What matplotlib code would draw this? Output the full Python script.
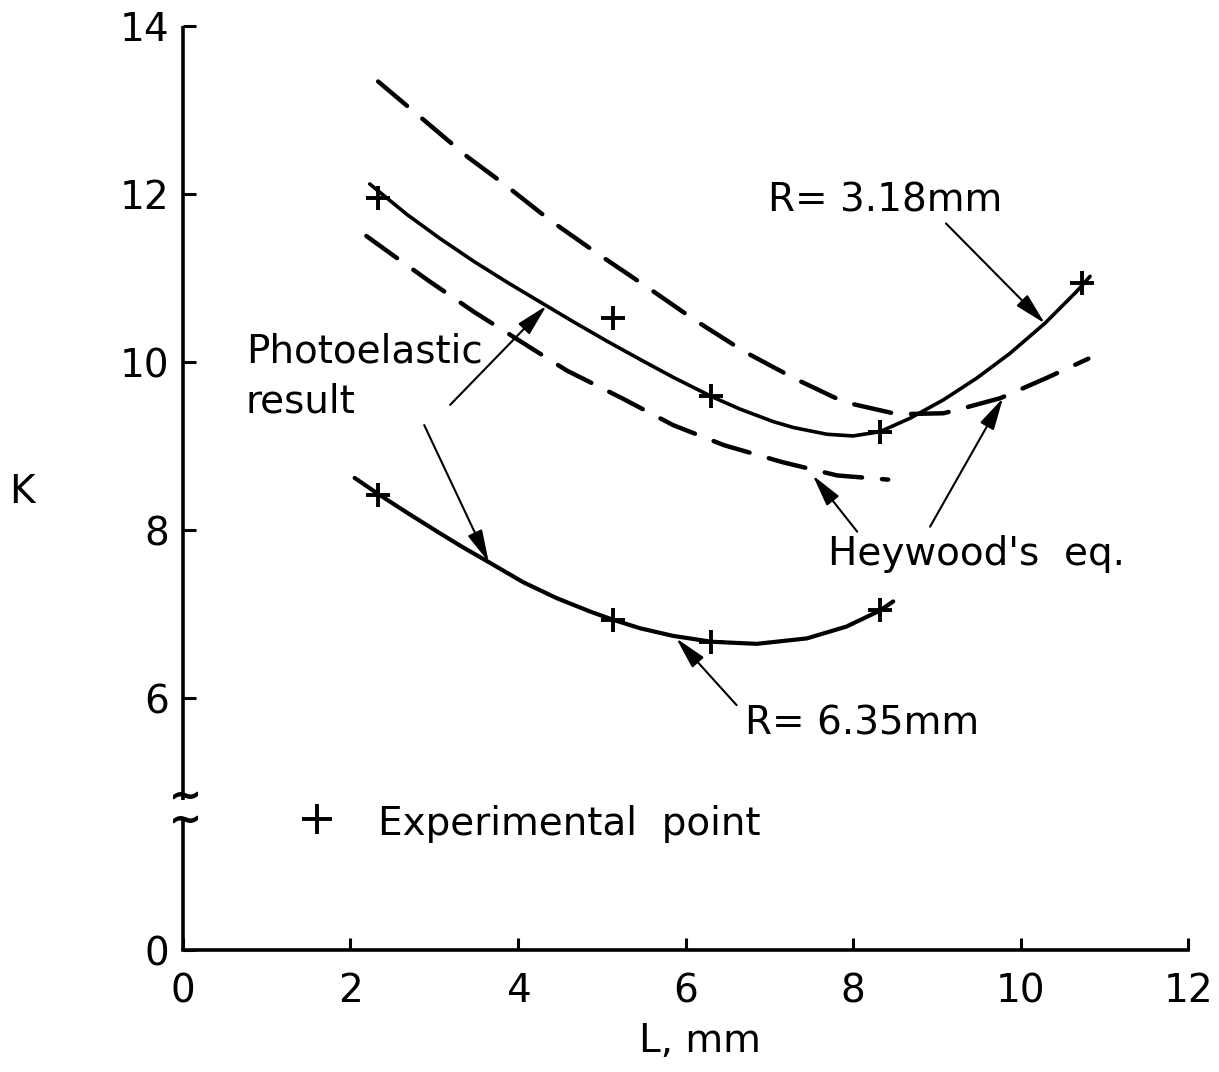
import matplotlib
matplotlib.use("Agg")
import matplotlib.pyplot as plt
import numpy as np

# photoelastic result, R = 3.18 mm (solid, upper)
r318_x = [2.23, 2.67, 3.07, 3.47, 3.87, 4.34, 4.66, 5.06, 5.46, 5.85, 6.31, 6.65, 7.05, 7.29,
          7.69, 8.00, 8.32, 8.68, 9.08, 9.48, 9.87, 10.29, 10.67, 10.83]
r318_y = [12.12, 11.76, 11.47, 11.20, 10.95, 10.67, 10.48, 10.25, 10.03, 9.82, 9.59, 9.44, 9.29, 9.22,
          9.14, 9.12, 9.17, 9.33, 9.55, 9.81, 10.10, 10.46, 10.84, 11.02]

# photoelastic result, R = 6.35 mm (solid, lower)
r635_x = [2.05, 2.33, 2.67, 3.07, 3.35, 3.63, 4.06, 4.46, 4.86, 5.14, 5.46, 5.85, 6.31, 6.85,
          7.45, 7.92, 8.32, 8.48]
r635_y = [8.62, 8.43, 8.21, 7.96, 7.79, 7.63, 7.38, 7.19, 7.03, 6.93, 6.83, 6.74, 6.67, 6.645,
          6.71, 6.85, 7.04, 7.15]

# Heywood's eq. (dashed)
hey_up_x = [2.33, 2.83, 3.40, 3.82, 4.38, 4.98, 5.56, 6.11, 6.71, 7.31, 7.88, 8.04, 8.48, 8.60,
            9.08, 9.24, 9.76, 10.31, 10.81]
hey_up_y = [13.34, 12.92, 12.44, 12.13, 11.69, 11.27, 10.88, 10.50, 10.12, 9.80, 9.53, 9.49, 9.39, 9.38,
            9.39, 9.43, 9.57, 9.81, 10.04]
hey_lo_x = [2.19, 2.51, 2.93, 3.47, 4.04, 4.58, 5.24, 5.85, 6.46, 7.15, 7.81, 8.42]
hey_lo_y = [11.50, 11.27, 10.97, 10.60, 10.24, 9.90, 9.57, 9.25, 9.01, 8.81, 8.65, 8.60]

# experimental points
exp318_x = [2.33, 5.13, 6.31, 8.32, 10.73]
exp318_y = [11.95, 10.52, 9.59, 9.17, 10.94]
exp635_x = [2.33, 5.14, 6.31, 8.32]
exp635_y = [8.42, 6.93, 6.67, 7.05]

x_ticks = [0, 2, 4, 6, 8, 10, 12]
y_ticks = [0, 6, 8, 10, 12, 14]


# broken y axis: 0..6 squeezed to half scale
def fwd(y):
    y = np.asarray(y, dtype=float)
    return np.where(y >= 6, y, 3 + 0.5 * y)


def inv(d):
    d = np.asarray(d, dtype=float)
    return np.where(d >= 6, d, (d - 3) * 2)


plt.rcParams['font.family'] = ['DejaVu Sans']
plt.rcParams['font.size'] = 28

fig = plt.figure(figsize=(12.19, 10.72), dpi=100)
ax = fig.add_axes([0.1501, 0.1138, 0.8245, 0.8619])
ax.set_yscale('function', functions=(fwd, inv))
ax.set_xlim(0, 12)
ax.set_ylim(0, 14)
ax.set_xticks(x_ticks)
ax.set_yticks(y_ticks)

for s in ['top', 'right', 'left']:
    ax.spines[s].set_visible(False)
ax.spines['bottom'].set_linewidth(2.6)
ax.tick_params(direction='in', length=9, width=2.2, labelsize=28)
ax.tick_params(axis='x', pad=16)
ax.tick_params(axis='y', pad=10)

# left axis with break
ax.plot([0, 0], [14, 3.57], color='k', lw=2.6, clip_on=False, solid_capstyle='butt')
ax.plot([0, 0], [3.14, 0], color='k', lw=2.6, clip_on=False, solid_capstyle='butt')
ax.plot([0.02, 0.02], [3.69, 3.12], ls='none', marker=r'$\sim$', ms=17, color='k', clip_on=False)

# curves
ax.plot(r318_x, r318_y, color='k', lw=2.6, solid_capstyle='round', solid_joinstyle='round')
ax.plot(r635_x, r635_y, color='k', lw=3.0, solid_capstyle='round', solid_joinstyle='round')
ax.plot(hey_up_x, hey_up_y, color='k', lw=3.2, dashes=(8.5, 4.5), dash_capstyle='round')
ax.plot(hey_lo_x, hey_lo_y, color='k', lw=3.2, dashes=(8.5, 4.5), dash_capstyle='round')

ax.plot(exp318_x, exp318_y, ls='none', marker='+', ms=17, mew=2.8, color='k')
ax.plot(exp635_x, exp635_y, ls='none', marker='+', ms=17, mew=2.8, color='k')

# labels and arrows
arr = dict(arrowstyle='-|>,head_length=0.7,head_width=0.17', color='k', lw=1.5,
           shrinkA=0, shrinkB=0, mutation_scale=28)

ax.text(6.99, 11.79, 'R= 3.18mm', ha='left', va='baseline')
ax.annotate('', xy=(10.29, 10.46), xytext=(9.11, 11.65), arrowprops=arr)

ax.text(0.75, 10.0, 'Photoelastic', ha='left', va='baseline')
ax.text(0.75, 9.40, 'result', ha='left', va='baseline')
ax.annotate('', xy=(4.34, 10.67), xytext=(3.19, 9.49), arrowprops=arr)
ax.annotate('', xy=(3.65, 7.62), xytext=(2.88, 9.25), arrowprops=arr)

ax.text(7.70, 7.58, "Heywood's  eq.", ha='left', va='baseline')
ax.annotate('', xy=(7.52, 8.65), xytext=(8.05, 7.98), arrowprops=arr)
ax.annotate('', xy=(9.79, 9.57), xytext=(8.92, 8.04), arrowprops=arr)

ax.text(6.71, 5.12, 'R= 6.35mm', ha='left', va='baseline')
ax.annotate('', xy=(5.89, 6.71), xytext=(6.61, 5.83), arrowprops=arr)

ax.plot([1.6], [3.13], ls='none', marker='+', ms=22, mew=2.8, color='k')
ax.text(2.33, 2.75, 'Experimental  point', ha='left', va='baseline')

ax.text(-1.92, 8.32, 'K', ha='center', va='baseline')
ax.set_xlabel('L, mm', fontsize=28)
ax.xaxis.set_label_coords(0.514, -0.078)

fig.savefig('out.png', dpi=100)
